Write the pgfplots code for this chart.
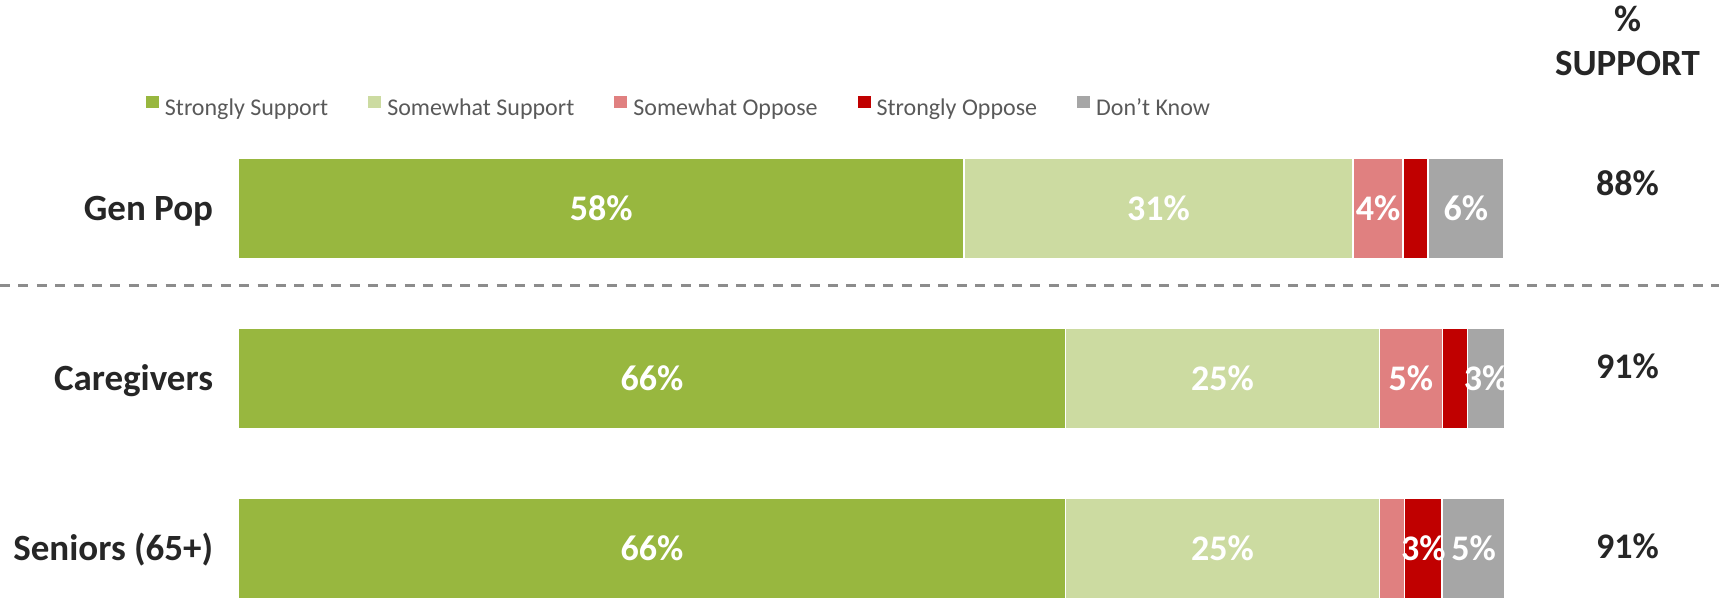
\documentclass[border=0pt]{standalone}
\usepackage{pgfplots}
\pgfplotsset{compat=1.18}
\usepackage{pgfplotstable}
\usepackage{fontspec}
\setmainfont{Carlito}
\definecolor{cSS}{RGB}{152,183,63}
\definecolor{cSWS}{RGB}{204,219,161}
\definecolor{cSWO}{RGB}{224,128,128}
\definecolor{cSO}{RGB}{192,0,0}
\definecolor{cDK}{RGB}{166,166,166}
\definecolor{cTxt}{RGB}{38,38,38}
\definecolor{cLeg}{RGB}{89,89,89}
\definecolor{cDash}{RGB}{140,140,140}

% y: 2 = Gen Pop, 1 = Caregivers, 0 = Seniors (65+)
\pgfplotstableread{
y  ss    sws   swo   so    dk    ssl swsl swol sol dkl
2  57.3  30.7  3.95  1.97  6.00  58  31   4    0   6
1  65.3  24.8  4.95  1.97  2.98  66  25   5    0   3
0  65.3  24.8  1.97  2.97  4.96  66  25   0    3   5
}\datatable

\begin{document}
\begin{tikzpicture}
\begin{axis}[
  xbar stacked,
  scale only axis,
  width=1266.7pt, height=598pt,
  xmin=0, xmax=100,
  ymin=-0.29235, ymax=3.22529,
  bar width=100pt,
  clip=false,
  hide x axis,
  axis y line*=left,
  y axis line style={draw=none},
  ytick={0,1,2},
  yticklabels={Seniors (65+),Caregivers,Gen Pop},
  major tick length=0pt,
  ytick style={draw=none},
  yticklabel style={font=\bfseries\fontsize{37}{40}\selectfont, text=cTxt,
    inner sep=0pt, anchor=base east, xshift=-25pt, yshift=-11.9pt},
  point meta=explicit symbolic,
  nodes near coords={\ifnum\pgfplotspointmeta>0 \pgfplotspointmeta\%\fi},
  every node near coord/.append style={font=\bfseries\fontsize{36}{40}\selectfont,
    text=white, anchor=center, inner sep=0pt},
  legend columns=5,
  legend image code/.code={\fill[#1,draw=none] (0pt,0pt) rectangle (13pt,12pt);},
  legend style={draw=none, fill=none, inner sep=0pt, outer sep=0pt,
    anchor=west, at={(-0.0729,0.8202)},
    font=\fontsize{24}{28}\selectfont, text=cLeg,
    nodes={inner sep=2pt},
    /tikz/every odd column/.append style={column sep=4pt},
    /tikz/every even column/.append style={column sep=38pt}},
  bar plot/.style={draw=white, line width=1.5pt},
]
\addplot[bar plot, fill=cSS]  table[x=ss,  y=y, meta=ssl]  {\datatable};
\addplot[bar plot, fill=cSWS] table[x=sws, y=y, meta=swsl] {\datatable};
\addplot[bar plot, fill=cSWO] table[x=swo, y=y, meta=swol] {\datatable};
\addplot[bar plot, fill=cSO]  table[x=so,  y=y, meta=sol]  {\datatable};
\addplot[bar plot, fill=cDK]  table[x=dk,  y=y, meta=dkl]  {\datatable};
\legend{Strongly Support,Somewhat Support,Somewhat Oppose,Strongly Oppose,Don’t Know}

% separator between the general population and the subgroups
\draw[cDash, line width=3pt, dash pattern=on 10pt off 8.4pt]
  (axis cs:-18.81,1.5488) -- (axis cs:116.9,1.5488);

% % support column
\node[font=\bfseries\fontsize{37}{40}\selectfont, text=cTxt, anchor=base]
  at (axis cs:109.67,3.0371) {\%};
\node[font=\bfseries\fontsize{37}{40}\selectfont, text=cTxt, anchor=base]
  at (axis cs:109.67,2.7841) {SUPPORT};
\node[font=\bfseries\fontsize{36}{40}\selectfont, text=cTxt, anchor=center]
  at (axis cs:109.67,2.149) {88\%};
\node[font=\bfseries\fontsize{36}{40}\selectfont, text=cTxt, anchor=center]
  at (axis cs:109.67,1.0735) {91\%};
\node[font=\bfseries\fontsize{36}{40}\selectfont, text=cTxt, anchor=center]
  at (axis cs:109.67,0.0135) {91\%};
\end{axis}
\pgfresetboundingbox
\useasboundingbox (-238.3pt,0pt) rectangle (1480.7pt,598pt);
\end{tikzpicture}
\end{document}
